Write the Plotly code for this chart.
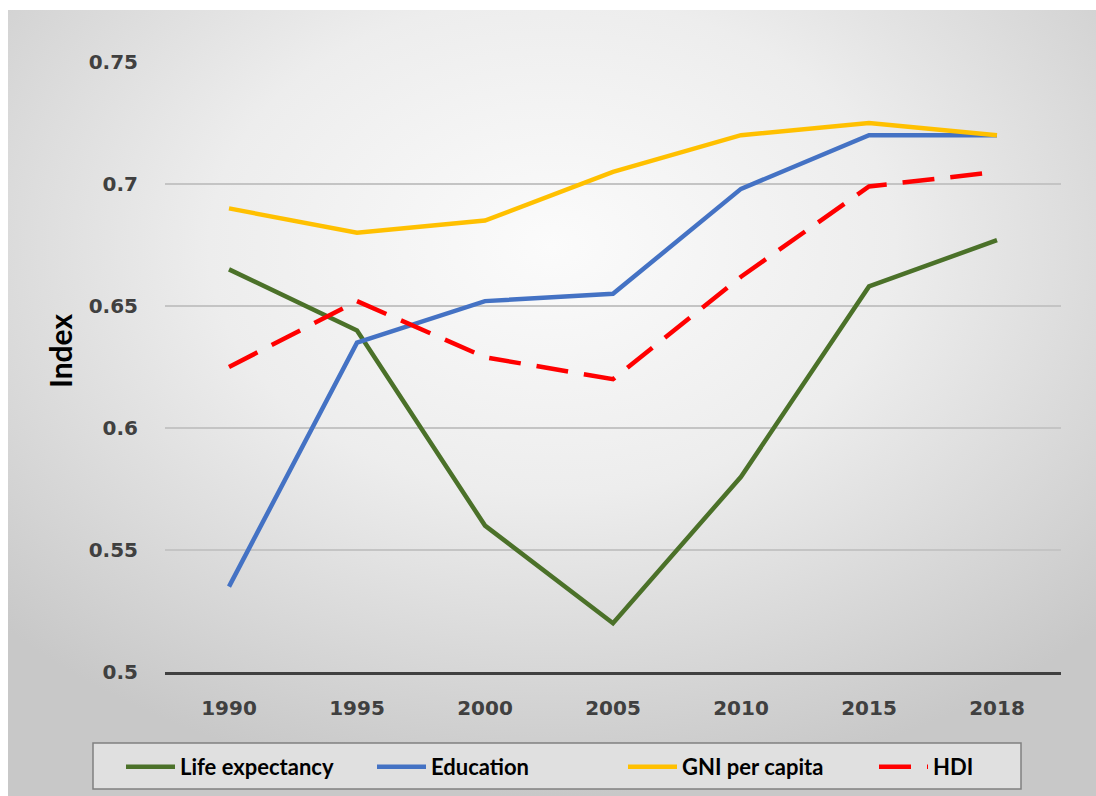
import base64
import plotly.graph_objects as go

# Human Development Index components
years = ["1990", "1995", "2000", "2005", "2010", "2015", "2018"]
life_expectancy = [0.665, 0.640, 0.560, 0.520, 0.580, 0.658, 0.677]
education = [0.535, 0.635, 0.652, 0.655, 0.698, 0.720, 0.720]
gni_per_capita = [0.690, 0.680, 0.685, 0.705, 0.720, 0.725, 0.720]
hdi = [0.625, 0.652, 0.629, 0.620, 0.662, 0.699, 0.705]
y_ticks = [0.5, 0.55, 0.6, 0.65, 0.7, 0.75]
y_tick_text = ["0.5", "0.55", "0.6", "0.65", "0.7", "0.75"]

W, H = 1096, 796
L, R, T, B = 165, 35, 62, 124
pw, ph = W - L - R, H - T - B

# soft radial grey backdrop for the chart area
svg = """<svg xmlns='http://www.w3.org/2000/svg' width='1088' height='786' viewBox='0 0 1088 786' preserveAspectRatio='none'>
<defs><radialGradient id='g' cx='0.5' cy='0.3' r='0.7'>
<stop offset='0' stop-color='#fbfbfb'/>
<stop offset='0.45' stop-color='#ededed'/>
<stop offset='1' stop-color='#c8c8c8'/>
</radialGradient></defs>
<rect width='1088' height='786' fill='url(#g)'/>
</svg>"""
bg_src = "data:image/svg+xml;base64," + base64.b64encode(svg.encode()).decode()

def px_x(x):
    return (x - L) / pw

def px_y(y):
    return (H - B - y) / ph

fig = go.Figure()
series = [
    ("Life expectancy", life_expectancy, "#4b7129", "solid"),
    ("Education", education, "#4472c4", "solid"),
    ("GNI per capita", gni_per_capita, "#ffc000", "solid"),
    ("HDI", hdi, "#ff0000", "32px,16px"),
]
for name, vals, color, dash in series:
    fig.add_trace(go.Scatter(
        x=years, y=vals, name=name, mode="lines",
        line=dict(color=color, width=4.5, dash=dash),
    ))

tick_font = dict(family="DejaVu Sans", size=20, color="#404040", weight="bold")

fig.update_layout(
    width=W, height=H,
    margin=dict(l=L, r=R, t=T, b=B, autoexpand=False),
    paper_bgcolor="white",
    plot_bgcolor="rgba(0,0,0,0)",
    images=[dict(
        source=bg_src, xref="paper", yref="paper",
        x=px_x(8), y=px_y(10), sizex=1088 / pw, sizey=786 / ph,
        xanchor="left", yanchor="top", sizing="stretch", layer="below",
    )],
    shapes=[dict(
        type="rect", xref="paper", yref="paper", layer="below",
        x0=px_x(93), x1=px_x(1021), y0=px_y(789), y1=px_y(743),
        fillcolor="#e0e0e0", line=dict(color="#808080", width=1.5),
    )],
    annotations=[dict(
        text="Index", textangle=-90, showarrow=False,
        xref="paper", yref="paper", x=px_x(60), y=px_y(351),
        xanchor="center", yanchor="middle",
        font=dict(family="Lato", size=30, color="black", weight="bold"),
    )],
    xaxis=dict(
        type="category", range=[-0.5, 6.5], showgrid=False, showline=True,
        linecolor="#404040", linewidth=3, ticks="",
        tickfont=tick_font, ticklabelstandoff=16,
    ),
    yaxis=dict(
        range=[0.5, 0.75], tickvals=y_ticks, ticktext=y_tick_text,
        showgrid=True, gridcolor="#c4c4c4", gridwidth=1.5,
        zeroline=False, showline=False, ticks="",
        tickfont=tick_font, ticklabelstandoff=26,
    ),
    legend=dict(
        orientation="h", x=px_x(121), y=px_y(746),
        xanchor="left", yanchor="top",
        bgcolor="rgba(0,0,0,0)", borderwidth=0,
        itemwidth=49, entrywidth=187,
        font=dict(family="Lato", size=22, color="black", weight="bold"),
    ),
    showlegend=True,
)

fig.write_html("out.html")
